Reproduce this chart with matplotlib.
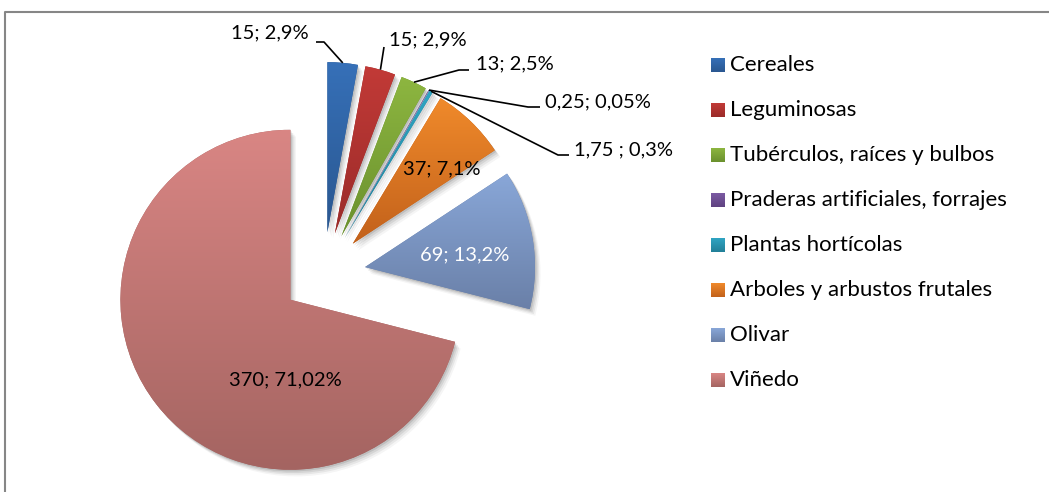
import numpy as np
import matplotlib
matplotlib.use("Agg")
import matplotlib.pyplot as plt
import matplotlib.patheffects as pe
from matplotlib.colors import to_rgb
from matplotlib.patches import Rectangle

# data
categories = ["Cereales", "Leguminosas", "Tubérculos, raíces y bulbos",
              "Praderas artificiales, forrajes", "Plantas hortícolas",
              "Arboles y arbustos frutales", "Olivar", "Viñedo"]
values = [15, 15, 13, 0.25, 1.75, 37, 69, 370]
value_text = ["15", "15", "13", "0,25", "1,75 ", "37", "69", "370"]
pct_text = ["2,9%", "2,9%", "2,5%", "0,05%", "0,3%", "7,1%", "13,2%", "71,02%"]

# gradient colours per slice (top, bottom)
top_colors = ["#3670b8", "#c23a37", "#8db640", "#7c5aa3", "#30a5c3", "#f08a2b", "#89a7d8", "#d98684"]
bot_colors = ["#2a5790", "#9a2b29", "#6a902e", "#5e4280", "#227f98", "#c2611b", "#6a80a8", "#a46461"]

W, H = 1049, 492
plt.rcParams["font.family"] = ["Lato", "DejaVu Sans"]
FS = 14.5      # data labels
FS_LEG = 16.0  # legend

fig = plt.figure(figsize=(W / 100, H / 100), dpi=100)
ax = fig.add_axes([0, 0, 1, 1])


def P(x, y):
    # image pixel -> data coords
    return x, H - y


def gradient_fill(patch, c_top, c_bot, z):
    ext = patch.get_path().get_extents(patch.get_patch_transform())
    n = 256
    t = np.linspace(0, 1, n)[:, None]
    arr = np.array(to_rgb(c_bot)) * (1 - t) + np.array(to_rgb(c_top)) * t
    im = ax.imshow(arr[:, None, :], extent=(ext.x0, ext.x1, ext.y0, ext.y1),
                   origin="lower", aspect="auto", interpolation="bilinear", zorder=z)
    im.set_clip_path(patch)


cx, cy = P(323.6, 274)
R = 170
expl = 42

shadow = [pe.SimplePatchShadow(offset=(o, -o * 1.2), shadow_rgbFace="k", alpha=a)
          for o, a in [(1.0, 0.10), (2.0, 0.08), (3.0, 0.06), (4.0, 0.04)]] + [pe.Normal()]

wedges, _ = ax.pie(values, startangle=90, counterclock=False, radius=R, center=(cx, cy),
                   explode=[expl] * len(values),
                   colors=[to_rgb(c) for c in bot_colors],
                   wedgeprops=dict(edgecolor="none", linewidth=0))
for w, ct, cb in zip(wedges, top_colors, bot_colors):
    w.set_zorder(2)
    w.set_path_effects(shadow)
    gradient_fill(w, ct, cb, 3)

labels = [f"{v}; {p}" for v, p in zip(value_text, pct_text)]

# outer labels with leader lines: (label anchor, ha, elbow point)
outer = {
    0: ((309, 33), "right", [(324, 42), (316, 42)]),
    1: ((389, 40), "left", [(384, 47)]),
    2: ((476, 64), "left", [(459, 70), (469, 70)]),
    3: ((545, 102), "left", [(528, 107), (540, 107)]),
    4: ((574, 150), "left", [(558, 155), (569, 155)]),
}
tot = sum(values)
cum = np.cumsum([0] + values)
for i, ((tx, ty), ha, elbow) in outer.items():
    mid = np.deg2rad(90 - 360 * (cum[i] + cum[i + 1]) / 2 / tot)
    px = cx + (R + expl) * np.cos(mid)
    py = cy + (R + expl) * np.sin(mid)
    xs = [px] + [P(*e)[0] for e in elbow]
    ys = [py] + [P(*e)[1] for e in elbow]
    ax.plot(xs, ys, color="black", lw=1.2, zorder=5, solid_capstyle="butt")
    ax.text(*P(tx, ty), labels[i], ha=ha, va="center", fontsize=FS, zorder=6)

# inner labels
inner = {5: ((442, 169), "black"), 6: ((465, 255), "white"), 7: ((285, 380), "black")}
for i, ((tx, ty), col) in inner.items():
    ax.text(*P(tx, ty), labels[i], ha="center", va="center", fontsize=FS, color=col, zorder=6)

# legend
for i, (cat, ct, cb) in enumerate(zip(categories, top_colors, bot_colors)):
    ly = 65 + 45 * i
    x0, y0 = P(711, ly + 7)
    sq = Rectangle((x0, y0), 14, 14, facecolor=cb, edgecolor="none", zorder=4)
    ax.add_patch(sq)
    gradient_fill(sq, ct, cb, 5)
    ax.text(*P(730, ly), cat, ha="left", va="center", fontsize=FS_LEG, zorder=6)

# chart border (top and left visible)
ax.plot([5, 5, W], [0, H - 11.5, H - 11.5], color="#868686", lw=1.5, zorder=1)

ax.set_xlim(0, W)
ax.set_ylim(0, H)
ax.set_aspect("equal")
ax.axis("off")

fig.savefig("out.png", dpi=100)
